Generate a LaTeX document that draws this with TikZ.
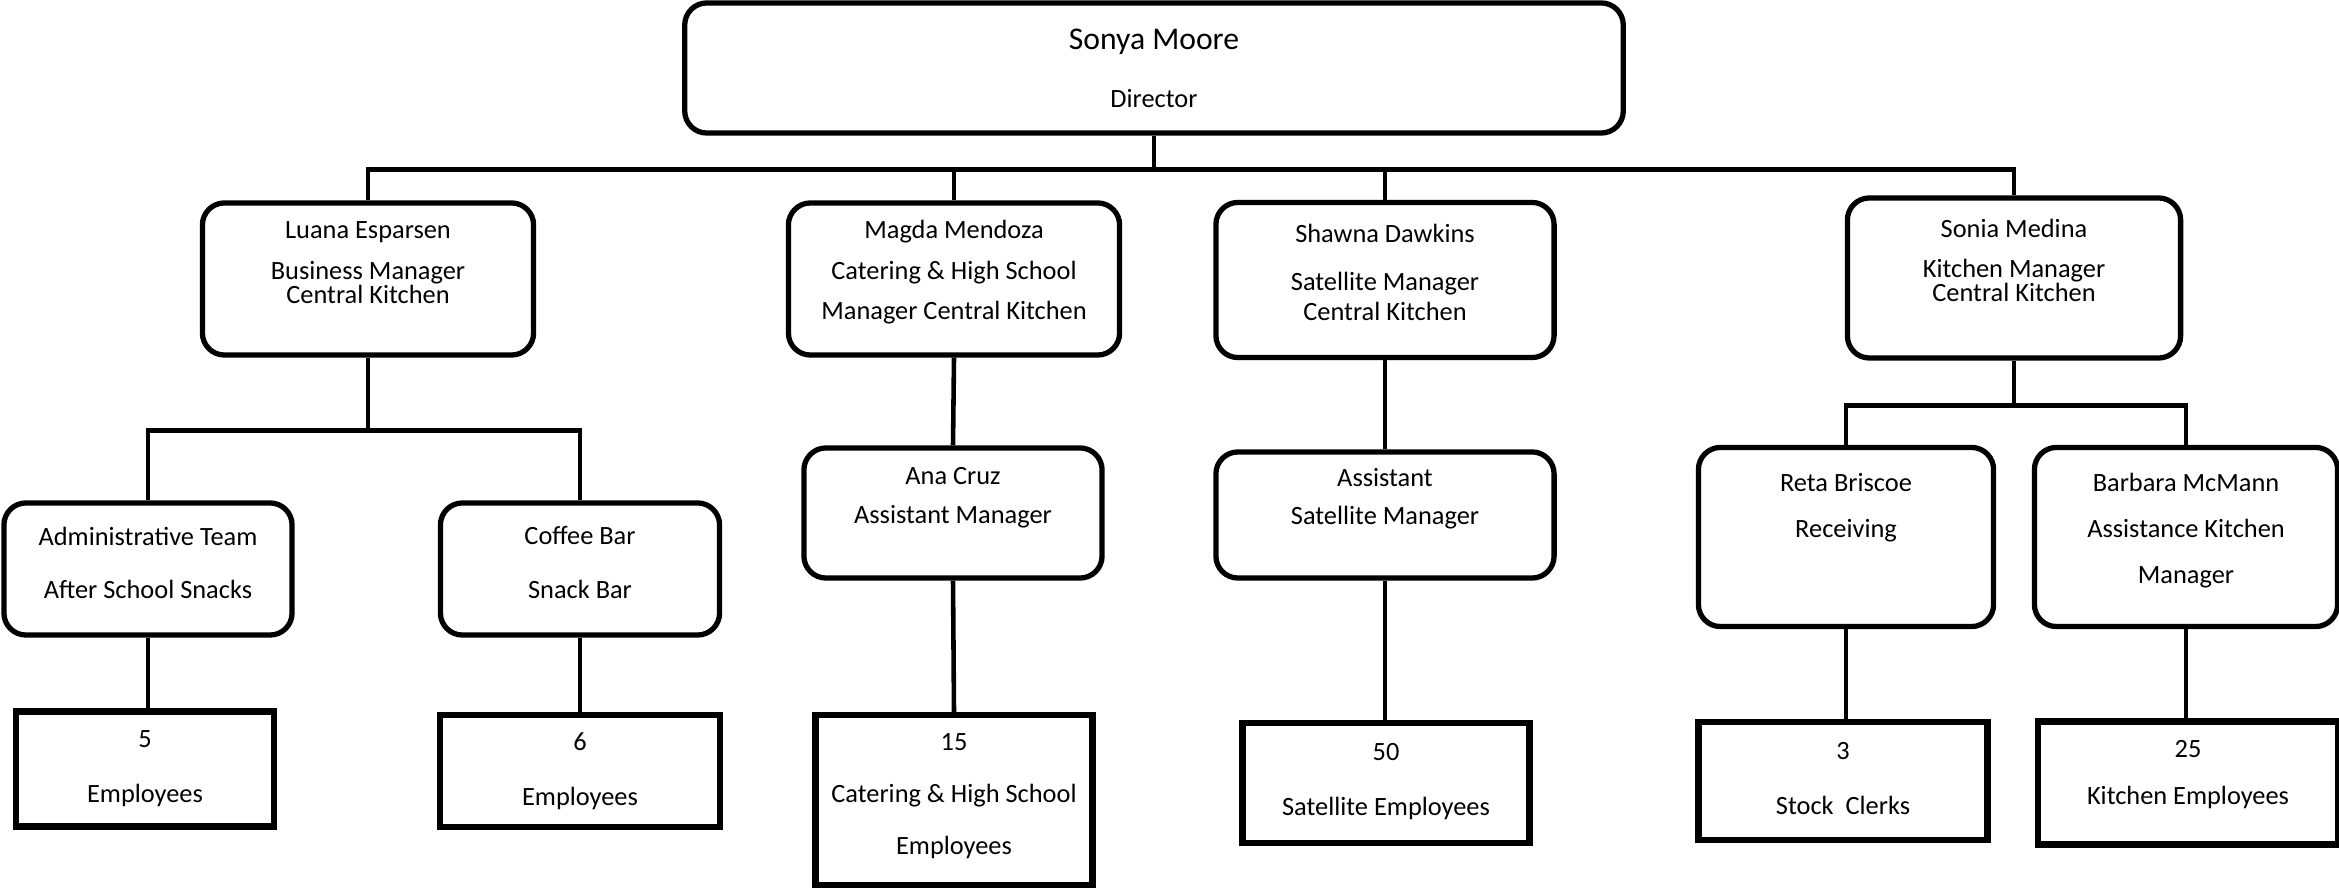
\documentclass[tikz,border=0pt]{standalone}
\usepackage{fontspec}
\setmainfont{Carlito}
\begin{document}
\begin{tikzpicture}[x=0.01cm, y=-0.01cm,
  mgr/.style={draw, line width=1.5pt, rounded corners=0.22cm, inner sep=0pt},
  crew/.style={draw, line width=1.8pt, inner sep=0pt},
  link/.style={line width=1.3pt},
  txt/.style={align=center, inner sep=0pt, anchor=base, font=\fontsize{7.5}{6.83}\selectfont}]
\useasboundingbox (0,0) rectangle (2339,889);
% director
\node[mgr, minimum width=9.38cm, minimum height=1.30cm] (director) at (1154,68) {};
\node[txt, font=\fontsize{9}{6.83}\selectfont] at (1154,108) {Sonya Moore\\[0.34cm]\fontsize{7.5}{6.83}\selectfont Director};
% managers
\node[mgr, minimum width=3.31cm, minimum height=1.52cm] (luana) at (368,279) {};
\node[mgr, minimum width=3.31cm, minimum height=1.52cm] (magda) at (954,279) {};
\node[mgr, minimum width=3.38cm, minimum height=1.55cm] (shawna) at (1385,280) {};
\node[mgr, minimum width=3.33cm, minimum height=1.60cm] (sonia) at (2014,278) {};
\node[txt] at (368,304) {Luana Esparsen\\[0.17cm]Business Manager\\Central Kitchen};
\node[txt] at (954,320) {Magda Mendoza\\[0.17cm]Catering \& High School\\[0.16cm]Manager Central Kitchen};
\node[txt] at (1385,321) {Shawna Dawkins\\[0.24cm]Satellite Manager\\[0.06cm]Central Kitchen};
\node[txt] at (2014,302) {Sonia Medina\\[0.16cm]Kitchen Manager\\Central Kitchen};
% teams and assistants
\node[mgr, minimum width=2.88cm, minimum height=1.32cm] (admin) at (148,569) {};
\node[mgr, minimum width=2.79cm, minimum height=1.32cm] (coffee) at (580,569) {};
\node[mgr, minimum width=2.98cm, minimum height=1.30cm] (ana) at (953,513) {};
\node[mgr, minimum width=3.38cm, minimum height=1.26cm] (asst) at (1385,515) {};
\node[mgr, minimum width=2.95cm, minimum height=1.79cm] (reta) at (1846,537) {};
\node[mgr, minimum width=3.03cm, minimum height=1.79cm] (barbara) at (2186,537) {};
\node[txt] at (148,599) {Administrative Team\\[0.29cm]After School Snacks};
\node[txt] at (580,599) {Coffee Bar\\[0.30cm]Snack Bar};
\node[txt] at (953,524) {Ana Cruz\\[0.15cm]Assistant Manager};
\node[txt] at (1385,525) {Assistant\\[0.14cm]Satellite Manager};
\node[txt] at (1846,538) {Reta Briscoe\\[0.22cm]Receiving};
\node[txt] at (2186,584) {Barbara McMann\\[0.22cm]Assistance Kitchen\\[0.22cm]Manager};
% employees
\node[crew, minimum width=2.58cm, minimum height=1.15cm] (emp5) at (145,769) {};
\node[crew, minimum width=2.80cm, minimum height=1.12cm] (emp6) at (580,771) {};
\node[crew, minimum width=2.77cm, minimum height=1.70cm] (emp15) at (954,800) {};
\node[crew, minimum width=2.87cm, minimum height=1.20cm] (emp50) at (1386,783) {};
\node[crew, minimum width=2.89cm, minimum height=1.18cm] (emp3) at (1843,781) {};
\node[crew, minimum width=3.00cm, minimum height=1.23cm] (emp25) at (2188,783) {};
\node[txt] at (145,803) {5\\[0.31cm]Employees};
\node[txt] at (580,806) {6\\[0.31cm]Employees};
\node[txt] at (954,855) {15\\[0.28cm]Catering \& High School\\[0.28cm]Employees};
\node[txt] at (1386,816) {50\\[0.31cm]Satellite Employees};
\node[txt] at (1843,815) {3\\[0.31cm]Stock\ \ Clerks};
\node[txt] at (2188,805) {25\\[0.23cm]Kitchen Employees};
% links
\draw[link] (director.south) -- ++(0,34) coordinate (bus);
\draw[link] (luana.north) |- (bus) -| (sonia.north);
\draw[link] (magda.north) -- (magda.north |- bus);
\draw[link] (shawna.north) -- (shawna.north |- bus);
\draw[link] (luana.south) -- ++(0,73) coordinate (lbus);
\draw[link] (admin.north) |- (lbus) -| (coffee.north);
\draw[link] (sonia.south) -- ++(0,45) coordinate (sbus);
\draw[link] (reta.north) |- (sbus) -| (barbara.north);
\draw[link] (magda.south) -- (ana.north);
\draw[link] (shawna.south) -- (asst.north);
\draw[link] (admin.south) -- (admin.south |- emp5.north);
\draw[link] (coffee.south) -- (emp6.north);
\draw[link] (ana.south) -- (emp15.north);
\draw[link] (asst.south) -- (asst.south |- emp50.north);
\draw[link] (reta.south) -- (reta.south |- emp3.north);
\draw[link] (barbara.south) -- (barbara.south |- emp25.north);
\end{tikzpicture}
\end{document}
